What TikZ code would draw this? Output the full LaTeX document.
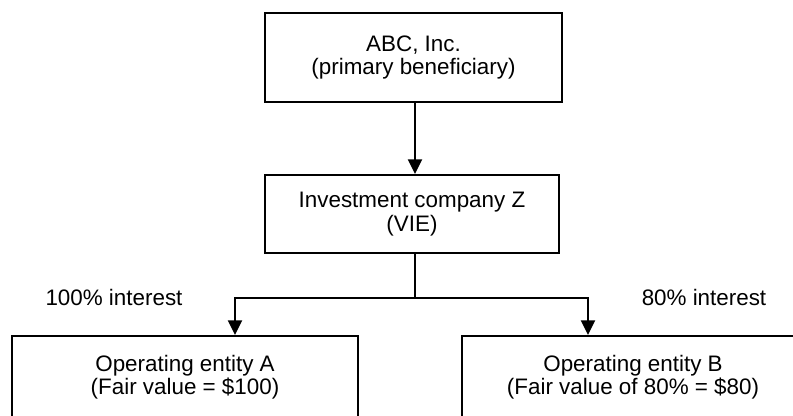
\documentclass[tikz,border=0pt]{standalone}
\usepackage{fontspec}
\setmainfont{Liberation Sans}
\usetikzlibrary{arrows.meta}
\begin{document}
\begin{tikzpicture}[x=0.75pt,y=-0.75pt,
  box/.style={draw=black,line width=1.5pt,rectangle,inner sep=0pt},
  txt/.style={align=center,font=\fontsize{16.8}{17.5}\selectfont,inner sep=0pt},
  lbl/.style={font=\fontsize{16.8}{17.5}\selectfont,inner sep=0pt},
  arr/.style={line width=1.5pt,-{Triangle[width=10.5pt,length=11pt]}},
  ln/.style={line width=1.5pt}]
\useasboundingbox (0,0) rectangle (793,415);
\clip (0,0) rectangle (793,415);
% boxes
\node[box,minimum width=297*0.75pt,minimum height=89*0.75pt] (top) at (413.5,57.5) {};
\node[txt] (toptxt) at (413.5,57.5) {ABC, Inc.\\(primary beneficiary)};
\node[box,minimum width=294*0.75pt,minimum height=78*0.75pt] (z) at (412,214) {};
\node[txt] (ztxt) at (412,214) {Investment company Z\\(VIE)};
\node[box,minimum width=346*0.75pt,minimum height=110*0.75pt] (a) at (185,391) {};
\node[txt] (atxt) at (185,377) {Operating entity A\\(Fair value = \$100)};
\node[box,minimum width=340*0.75pt,minimum height=110*0.75pt] (b) at (632,391) {};
\node[txt] (btxt) at (633,377) {Operating entity B\\(Fair value of 80\% = \$80)};
% labels
\node[lbl] (la) at (114,297) {100\% interest};
\node[lbl] (lb) at (704,297) {80\% interest};
% connectors
\coordinate (j) at (415,298);
\coordinate (ja) at (235,298);
\coordinate (jb) at (588,298);
\draw[arr] (top.south -| j) -- (z.north -| j);
\draw[ln] (z.south -| j) -- (j);
\draw[arr] (j) -- (ja) -- (ja |- a.north);
\draw[arr] (j) -- (jb) -- (jb |- b.north);
\end{tikzpicture}
\end{document}
